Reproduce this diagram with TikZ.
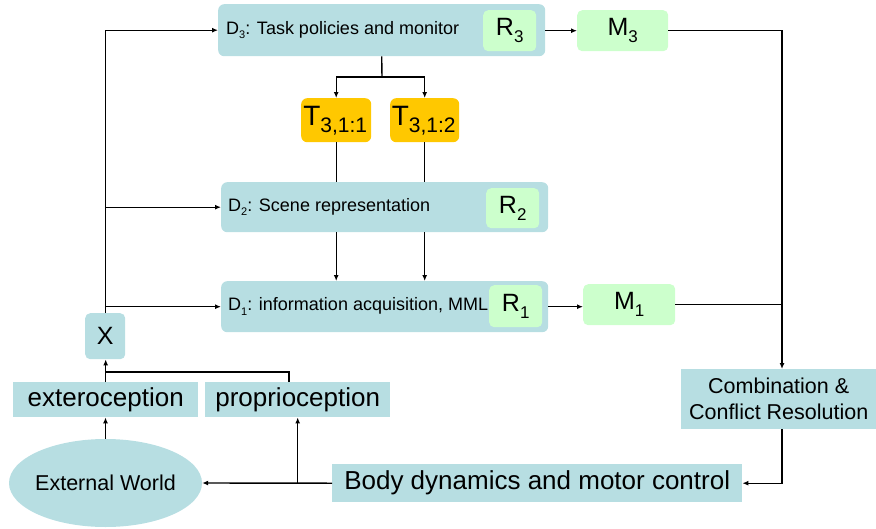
\documentclass[tikz,border=0pt]{standalone}
\usepackage{fontspec}
\setmainfont{Liberation Sans}
\usepackage{graphicx}
\usetikzlibrary{arrows.meta,shapes.geometric,calc}

\definecolor{boxteal}{RGB}{183,222,226}
\definecolor{boxgreen}{RGB}{204,255,204}
\definecolor{boxgold}{RGB}{255,200,0}

% subscript helper: scaled digits lowered below the baseline
\newcommand\lowidx[2][0.28em]{\raisebox{-#1}{#2}}

\tikzset{
  fs/.style={font=\fontsize{#1}{#1}\selectfont},
  decbox/.style={fill=boxteal, rounded corners=6pt, inner sep=0pt, anchor=north west},
  resbox/.style={fill=boxgreen, rounded corners=5pt, inner sep=0pt, anchor=north west},
  taskbox/.style={fill=boxgold, rounded corners=6pt, inner sep=0pt, anchor=north west},
  plainbox/.style={fill=boxteal, inner sep=0pt, anchor=north west},
  wire/.style={draw=black, line width=1.4pt},
  arrowwire/.style={wire, -{Latex[length=6pt,width=5pt]}},
}

\begin{document}
\begin{tikzpicture}[x=1pt,y=-1pt]
\useasboundingbox (0,0) rectangle (876,528);

% ---------- decision layers ----------
\node (D3) [decbox, minimum width=327pt, minimum height=52pt] at (218,4) {};
\node (D3t) [anchor=west, fs=18, inner sep=0pt] at ($(D3.west)+(8,0)$) {D\lowidx[0.25em]{\fontsize{11}{11}\selectfont 3}: Task policies and monitor};
\node (R3) [resbox, minimum width=53pt, minimum height=41pt, fs=25] at (483,10) {R\lowidx{\fontsize{17}{17}\selectfont 3}};
\node (M3) [resbox, minimum width=91pt, minimum height=41pt, fs=25] at (577,10) {M\lowidx{\fontsize{17}{17}\selectfont 3}};

\node (T1) [taskbox, minimum width=70pt, minimum height=44pt] at (301,98) {};
\node (T1t) [fs=28, inner sep=0pt] at ($(T1.center)+(-1,1)$) {T\lowidx[0.25em]{\fontsize{21}{21}\selectfont 3,1:1}};
\node (T2) [taskbox, minimum width=69pt, minimum height=44pt] at (390,98) {};
\node (T2t) [fs=28, inner sep=0pt] at ($(T2.center)+(-1,1)$) {T\lowidx[0.25em]{\fontsize{21}{21}\selectfont 3,1:2}};

\node (D1) [decbox, minimum width=327pt, minimum height=51pt] at (221,281) {};
\node (D1t) [anchor=west, fs=18, inner sep=0pt] at ($(D1.west)+(7,0)$) {D\lowidx[0.25em]{\fontsize{11}{11}\selectfont 1}: information acquisition, MML};
\node (R1) [resbox, minimum width=53pt, minimum height=42pt, fs=25] at (489,285) {R\lowidx{\fontsize{17}{17}\selectfont 1}};
\node (M1) [resbox, minimum width=92pt, minimum height=41pt, fs=25] at (583,284) {M\lowidx{\fontsize{17}{17}\selectfont 1}};

% ---------- task outputs pass behind the scene layer ----------
\coordinate (split) at (382,77);
\draw[wire] (D3.south) -- (split);
\draw[arrowwire] (split) -| (T1.north);
\draw[arrowwire] (split) -| (T2.north);

\node (D2) [decbox, minimum width=327pt, minimum height=50pt] at (221,182) {};
\node (D2t) [anchor=west, fs=18, inner sep=0pt] at ($(D2.west)+(7,0)$) {D\lowidx[0.25em]{\fontsize{11}{11}\selectfont 2}: Scene representation};
\node (R2) [resbox, minimum width=53pt, minimum height=40pt, fs=25] at (486,188) {R\lowidx{\fontsize{17}{17}\selectfont 2}};

\draw[wire] (T1.south) -- (T1.south |- D2.north);
\draw[wire] (T2.south) -- (T2.south |- D2.north);
\draw[arrowwire] (T1.south |- D2.south) -- (T1.south |- D1.north);
\draw[arrowwire] (T2.south |- D2.south) -- (T2.south |- D1.north);

% ---------- perception ----------
\node (X) [decbox, rounded corners=5pt, minimum width=40pt, minimum height=46pt, fs=25] at (85,313) {X};
\node (Ext) [plainbox, minimum width=185pt, minimum height=35pt, fs=26] at (13,382) {exteroception};
\node (Pro) [plainbox, minimum width=185pt, minimum height=35pt, fs=26] at (205,382) {proprioception};
\node (EW) [ellipse, fill=boxteal, inner sep=0pt, minimum width=193pt, minimum height=88pt] at (105.5,483) {};
\node (EWt) [fs=21.5, inner sep=0pt] at (EW.center) {External World};

% ---------- action ----------
\node (Comb) [plainbox, minimum width=195pt, minimum height=60pt, font=\fontsize{21.5}{26}\selectfont, align=center] at (681,369) {Combination \&\\Conflict Resolution};
\node (Body) [plainbox, minimum width=410pt, minimum height=38pt, fs=26] at (332,464) {Body dynamics and motor control};

% ---------- connectors ----------
\coordinate (bus) at (782,0);
\coordinate (pjoin) at (106,372);
\coordinate (ptop) at (289,382);

\draw[arrowwire] (X.north) |- (D3.west);
\draw[arrowwire] (X.north |- D2.west) -- (D2.west);
\draw[arrowwire] (X.north |- D1.west) -- (D1.west);

\draw[arrowwire] (D3.east |- M3.west) -- (M3.west);
\draw[arrowwire] (D1.east) -- (D1.east -| M1.west);
\draw[arrowwire] (M3.east) -| (bus |- Comb.north);
\draw[wire] (M1.east) -- (M1.east -| bus);
\draw[arrowwire] (bus |- Comb.south) |- (Body.east);

\draw[arrowwire] (Body.west) -- (EW.east);
\draw[arrowwire] (Body.west -| Pro.south) -- (Pro.south);
\draw[arrowwire] (EW.north) -- (EW.north |- Ext.south);
\draw[arrowwire] (Ext.north) -- (Ext.north |- X.south);
\draw[wire] (ptop) |- (pjoin);
\end{tikzpicture}
\end{document}
